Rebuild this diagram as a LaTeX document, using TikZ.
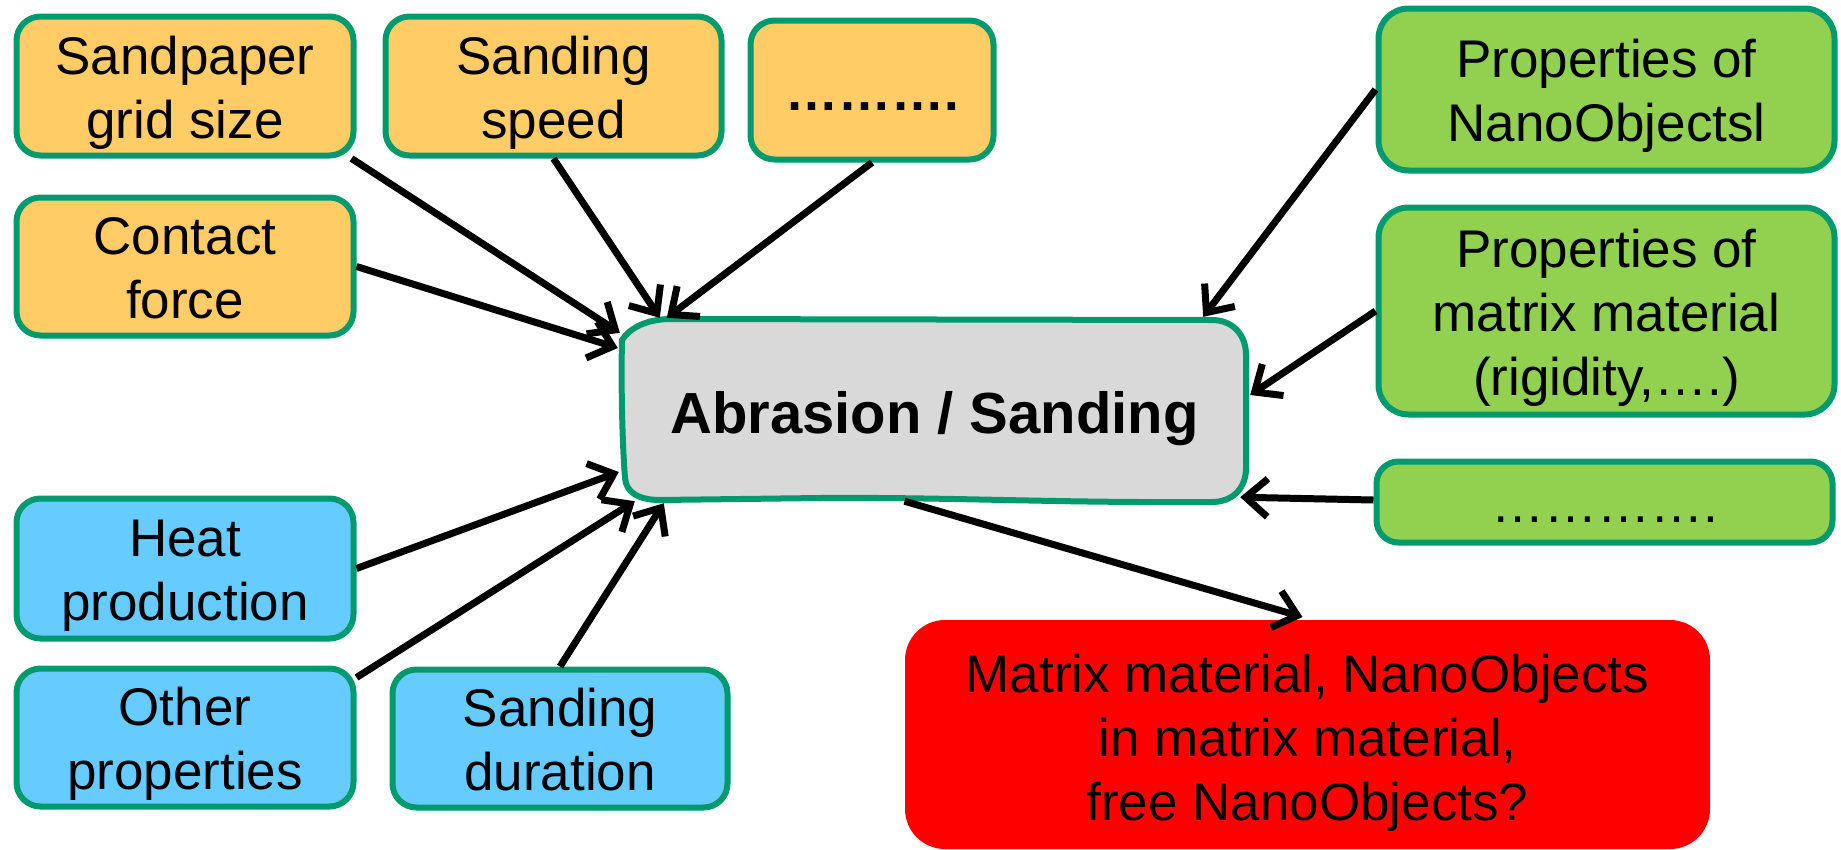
\documentclass[tikz,border=0pt]{standalone}
\usepackage{fontspec}
\setmainfont{Liberation Sans}
\usetikzlibrary{arrows.meta,calc}
\definecolor{bord}{HTML}{009A6E}
\definecolor{orangeF}{HTML}{FFCC66}
\definecolor{greenF}{HTML}{92D050}
\definecolor{blueF}{HTML}{66CCFF}
\definecolor{grayF}{HTML}{D9D9D9}
\definecolor{redF}{HTML}{FF0000}
\begin{document}
\begin{tikzpicture}[x=1pt,y=-1pt,
  bx/.style={draw=bord, line width=6pt, rounded corners=24pt, align=center,
    inner sep=0pt, text depth=0pt, font=\fontsize{53}{64}\selectfont},
  gbx/.style={bx, rounded corners=30pt, fill=greenF},
  onel/.style={text height=40pt},
  twol/.style={text height=104pt},
  threel/.style={text height=168pt},
  arr/.style={draw=black, line width=7pt, -{Straight Barb[length=22pt,width=38pt]}}]
\useasboundingbox (0,0) rectangle (1841,849);
% centre box outline (hand drawn look)
\path[draw=bord, line width=6pt, fill=grayF]
  (622,340) .. controls (630,328) and (645,320) .. (668,319)
  -- (1212,320) .. controls (1232,320) and (1246,334) .. (1246,355)
  -- (1246,468) .. controls (1246,489) and (1232,502) .. (1212,502)
  .. controls (1050,503) and (950,497) .. (820,498)
  -- (660,500) .. controls (638,500) and (626,492) .. (625,478)
  .. controls (622,440) and (621,380) .. (622,340) -- cycle;
\node[align=center, inner sep=0pt, minimum width=621pt, minimum height=181pt,
  text height=45pt, text depth=0pt, font=\fontsize{58}{64}\selectfont\bfseries]
  (center) at (934.5,410.5) {Abrasion / Sanding};
% orange
\node[bx, fill=orangeF, minimum width=337pt, minimum height=139pt, twol] (sand) at (185,86) {Sandpaper\\grid size};
\node[bx, fill=orangeF, minimum width=336pt, minimum height=139pt, twol] (speed) at (553.5,86) {Sanding\\speed};
\node[bx, fill=orangeF, minimum width=243pt, minimum height=139pt, onel, font=\fontsize{53}{64}\selectfont\bfseries] (dotsa) at (872,90) {……….};
\node[bx, fill=orangeF, minimum width=337pt, minimum height=138pt, twol] (contact) at (185,266.5) {Contact\\force};
% blue
\node[bx, fill=blueF, minimum width=337pt, minimum height=140pt, twol] (heat) at (185,568.5) {Heat\\production};
\node[bx, fill=blueF, minimum width=337pt, minimum height=138pt, twol] (other) at (185,737.5) {Other\\properties};
\node[bx, fill=blueF, minimum width=335pt, minimum height=138pt, twol] (dur) at (560,738.5) {Sanding\\duration};
% green
\node[gbx, minimum width=456pt, minimum height=162pt, twol] (pnano) at (1606.5,89.5) {Properties of\\NanoObjectsl};
\node[gbx, minimum width=456pt, minimum height=207pt, threel] (pmat) at (1606.5,311) {Properties of\\matrix material\\(rigidity,….)};
\node[gbx, rounded corners=22pt, minimum width=456pt, minimum height=81pt, onel] (dotsb) at (1604.5,502) {………….};
% red
\node[bx, draw=none, fill=redF, rounded corners=40pt, minimum width=805pt, minimum height=229pt, text height=171pt] (red) at (1307.5,734.5) {Matrix material, NanoObjects\\in matrix material,\\free NanoObjects?};
% arrows
\draw[arr] ([xshift=-5pt]sand.south east) -- ([shift={(-4pt,-13pt)}]center.north west);
\draw[arr] (speed.south) -- ([shift={(36pt,2pt)}]center.north west);
\draw[arr] (dotsa.south) -- ([shift={(43pt,2pt)}]center.north west);
\draw[arr] (contact.east) -- ([shift={(-6pt,62.5pt)}]center.west);
\draw[arr] (heat.east) -- ([shift={(-5pt,-61.5pt)}]center.west);
\draw[arr] ([yshift=-12pt]other.north east) -- ([shift={(11pt,0pt)}]center.south west);
\draw[arr] (dur.north) -- ([shift={(40pt,-2pt)}]center.south west);
\draw[arr] (pnano.west) -- ([shift={(-42pt,3pt)}]center.north east);
\draw[arr] (pmat.west) -- ([shift={(5pt,15.5pt)}]center.east);
\draw[arr] ([yshift=2pt]dotsb.west) -- ([shift={(-5pt,4pt)}]center.south east);
\draw[arr] ([xshift=-30pt]center.south) -- ([xshift=-5pt]red.north);
\end{tikzpicture}
\end{document}
